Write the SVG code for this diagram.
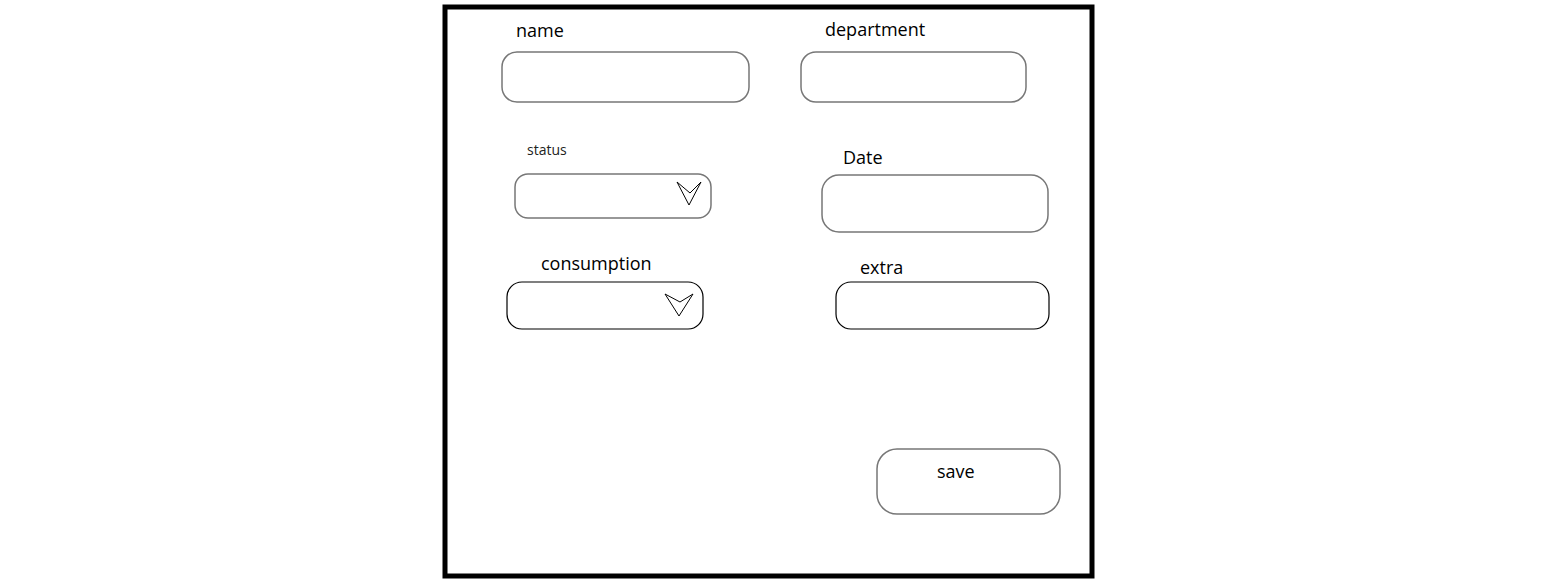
<svg xmlns="http://www.w3.org/2000/svg" width="1554" height="588" viewBox="0 0 1554 588">
<style>
.lbl{font-family:"Open Sans","Noto Sans",sans-serif;font-size:18px;fill:#000}
.sm{font-size:14px;fill:#222}
.box{fill:#fff;stroke:#777;stroke-width:1.5}
.boxk{fill:#fff;stroke:#000;stroke-width:1.2}
.dart{fill:#fff;stroke:#000;stroke-width:1}
</style>
<rect x="0" y="0" width="1554" height="588" fill="#fff"/>
<rect id="frame" x="445" y="7" width="647" height="569" fill="#fff" stroke="#000" stroke-width="5"/>
<g id="name">
<text class="lbl" x="516" y="37">name</text>
<rect class="box" x="502" y="52" width="247" height="50" rx="15"/>
</g>
<g id="department">
<text class="lbl" x="825" y="36">department</text>
<rect class="box" x="801" y="52" width="225" height="50" rx="15"/>
</g>
<g id="status">
<text class="lbl sm" x="527" y="155">status</text>
<rect class="box" x="515" y="174" width="196" height="44" rx="13"/>
<polygon class="dart" points="677,182 690,193 701,182 689,205"/>
</g>
<g id="date">
<text class="lbl" x="843" y="164">Date</text>
<rect class="box" x="822" y="175" width="226" height="57" rx="17"/>
</g>
<g id="consumption">
<text class="lbl" x="541" y="270">consumption</text>
<rect class="boxk" x="507" y="282" width="196" height="47" rx="15"/>
<polygon class="dart" points="665,294 680,302 693,294 679,316"/>
</g>
<g id="extra">
<text class="lbl" x="860" y="274">extra</text>
<rect class="boxk" x="836" y="282" width="213" height="47" rx="15"/>
</g>
<g id="save">
<rect class="box" x="877" y="449" width="183" height="65" rx="20"/>
<text class="lbl" x="937" y="478">save</text>
</g>
<g id="connectors"/>
</svg>
